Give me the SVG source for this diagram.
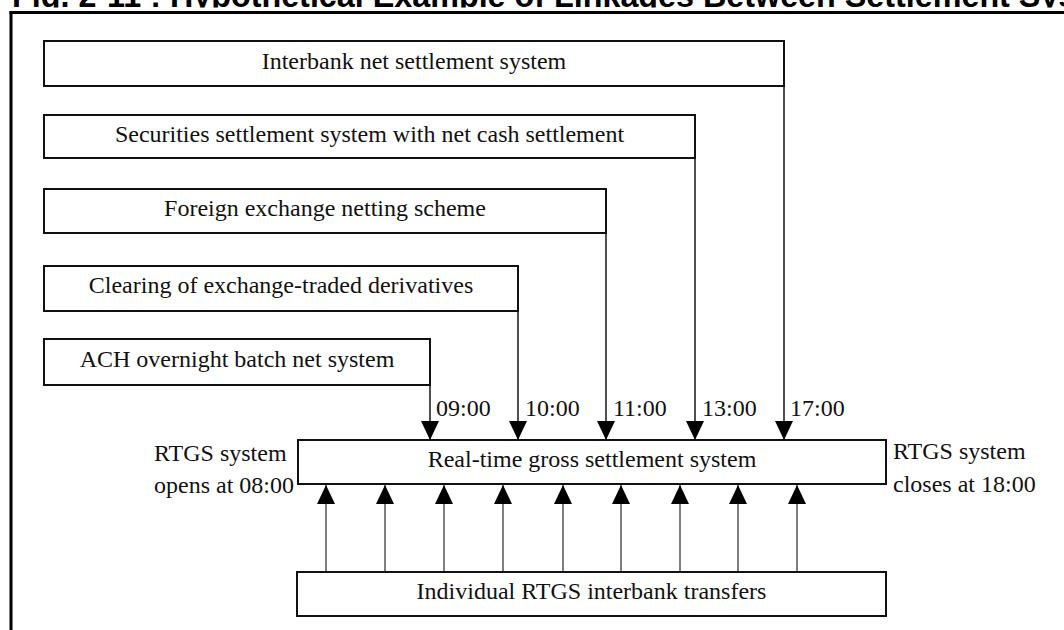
<svg xmlns="http://www.w3.org/2000/svg" width="1064" height="630" viewBox="0 0 1064 630">
<style>
.box{fill:#fff;stroke:#111;stroke-width:2}
.lbl{font-family:"Liberation Serif","Times New Roman",serif;font-size:24px;fill:#111}
.mid{text-anchor:middle}
.con{stroke:#222;stroke-width:1.6;fill:none}
.up{stroke:#555;stroke-width:1.5;fill:none}
.title{font-family:"Liberation Sans",Arial,sans-serif;font-weight:bold;font-size:32.3px;fill:#000}
</style>
<defs>
<marker id="ah" markerUnits="userSpaceOnUse" markerWidth="19" markerHeight="18" refX="19" refY="9" orient="auto">
<path d="M0,0 L19,9 L0,18 z" fill="#000"/>
</marker>
<clipPath id="tclip"><rect x="0" y="0" width="1064" height="7.5"/></clipPath>
</defs>
<rect width="1064" height="630" fill="#fff"/>
<g id="title" clip-path="url(#tclip)">
<text class="title" x="12" y="7">Fig. 2-11 : Hypothetical Example of Linkages Between Settlement Sys</text>
</g>
<g id="frame">
<line x1="9.5" y1="12.5" x2="1064" y2="12.5" stroke="#000" stroke-width="3"/>
<line x1="11" y1="11" x2="11" y2="630" stroke="#000" stroke-width="3"/>
</g>
<g id="connectors">
<line class="con" x1="784" y1="86" x2="784" y2="440" marker-end="url(#ah)"/>
<line class="con" x1="695" y1="158" x2="695" y2="440" marker-end="url(#ah)"/>
<line class="con" x1="606" y1="233" x2="606" y2="440" marker-end="url(#ah)"/>
<line class="con" x1="518" y1="311" x2="518" y2="440" marker-end="url(#ah)"/>
<line class="con" x1="430" y1="385" x2="430" y2="440" marker-end="url(#ah)"/>
<line class="up" x1="326" y1="572" x2="326" y2="485" marker-end="url(#ah)"/>
<line class="up" x1="385" y1="572" x2="385" y2="485" marker-end="url(#ah)"/>
<line class="up" x1="444" y1="572" x2="444" y2="485" marker-end="url(#ah)"/>
<line class="up" x1="503" y1="572" x2="503" y2="485" marker-end="url(#ah)"/>
<line class="up" x1="563" y1="572" x2="563" y2="485" marker-end="url(#ah)"/>
<line class="up" x1="621" y1="572" x2="621" y2="485" marker-end="url(#ah)"/>
<line class="up" x1="680" y1="572" x2="680" y2="485" marker-end="url(#ah)"/>
<line class="up" x1="738" y1="572" x2="738" y2="485" marker-end="url(#ah)"/>
<line class="up" x1="797" y1="572" x2="797" y2="485" marker-end="url(#ah)"/>
<text class="lbl" x="436" y="416">09:00</text>
<text class="lbl" x="525" y="416">10:00</text>
<text class="lbl" x="613" y="416">11:00</text>
<text class="lbl" x="702" y="416">13:00</text>
<text class="lbl" x="790" y="416">17:00</text>
</g>
<g id="interbank">
<rect class="box" x="44" y="41" width="740" height="45"/>
<text class="lbl mid" x="414" y="69">Interbank net settlement system</text>
</g>
<g id="securities">
<rect class="box" x="44" y="115" width="651" height="43"/>
<text class="lbl mid" x="369.5" y="142">Securities settlement system with net cash settlement</text>
</g>
<g id="fx">
<rect class="box" x="44" y="189" width="562" height="44"/>
<text class="lbl mid" x="325" y="216">Foreign exchange netting scheme</text>
</g>
<g id="derivatives">
<rect class="box" x="44" y="266" width="474" height="45"/>
<text class="lbl mid" x="281" y="293">Clearing of exchange-traded derivatives</text>
</g>
<g id="ach">
<rect class="box" x="44" y="339" width="386" height="46"/>
<text class="lbl mid" x="237" y="367">ACH overnight batch net system</text>
</g>
<g id="rtgs">
<rect class="box" x="298" y="440" width="588" height="44" stroke-width="2.5"/>
<text class="lbl mid" x="592" y="467">Real-time gross settlement system</text>
</g>
<g id="opens">
<text class="lbl" x="154" y="461">RTGS system</text>
<text class="lbl" x="154" y="493">opens at 08:00</text>
</g>
<g id="closes">
<text class="lbl" x="893" y="459">RTGS system</text>
<text class="lbl" x="893" y="492">closes at 18:00</text>
</g>
<g id="transfers">
<rect class="box" x="297" y="572" width="589" height="44"/>
<text class="lbl mid" x="591.5" y="599">Individual RTGS interbank transfers</text>
</g>
</svg>
